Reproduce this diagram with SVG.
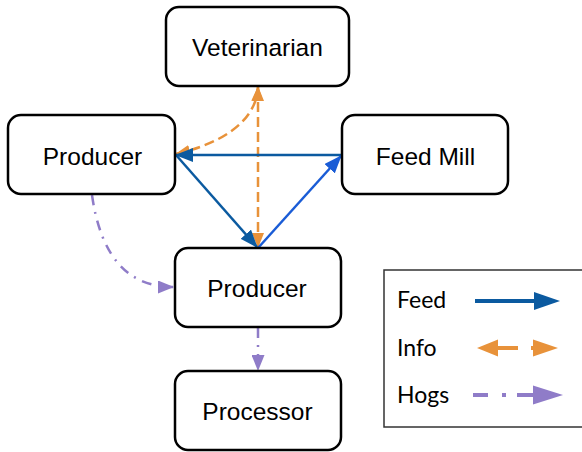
<svg xmlns="http://www.w3.org/2000/svg" width="582" height="452" viewBox="0 0 582 452">
<style>
.box{fill:#fff;stroke:#000;stroke-width:2.5}
.lbl{font-family:"Liberation Sans",Arial,sans-serif;font-size:24.5px;fill:#000;text-anchor:middle}
.leg{font-family:Lato,"Open Sans",sans-serif;font-size:23px;fill:#000}
.feed{stroke:#0b5aa0;stroke-width:2.5;fill:none}
.feed2{stroke:#1a5cd6;stroke-width:2.5;fill:none}
.info{stroke:#e8923a;stroke-width:2.5;fill:none;stroke-dasharray:10 5}
.hogs{stroke:#8f7cc8;stroke-width:2.5;fill:none;stroke-dasharray:10 7 2 7}
</style>
<defs>
<marker id="aFeed" markerUnits="userSpaceOnUse" markerWidth="18" markerHeight="14" refX="17" refY="7" orient="auto"><path d="M0,0 L18,7 L0,14 z" fill="#0b5aa0"/></marker>
<marker id="aFeed2" markerUnits="userSpaceOnUse" markerWidth="18" markerHeight="14" refX="17" refY="7" orient="auto"><path d="M0,0 L18,7 L0,14 z" fill="#1a5cd6"/></marker>
<marker id="aInfo" markerUnits="userSpaceOnUse" markerWidth="15" markerHeight="12" refX="14" refY="6" orient="auto-start-reverse"><path d="M0,0 L15,6 L0,12 z" fill="#e8923a"/></marker>
<marker id="aHogs" markerUnits="userSpaceOnUse" markerWidth="16" markerHeight="13" refX="15" refY="6.5" orient="auto"><path d="M0,0 L16,6.5 L0,13 z" fill="#8f7cc8"/></marker>
</defs>

<g id="connectors">
<path class="hogs" d="M92,195 Q105,287 173,287" marker-end="url(#aHogs)"/>
<path class="hogs" d="M258,328 L258,370" marker-end="url(#aHogs)"/>
<path class="info" d="M176,154 C215,145 256,125 258,87" marker-start="url(#aInfo)" marker-end="url(#aInfo)"/>
<path class="info" d="M258,247 L258,87" marker-start="url(#aInfo)" marker-end="url(#aInfo)"/>
<path class="feed" d="M342,155 L176,155" marker-end="url(#aFeed)"/>
<path class="feed" d="M176,155 L257,247" marker-end="url(#aFeed)"/>
<path class="feed2" d="M258,248 L341,156" marker-end="url(#aFeed2)"/>
</g>

<g id="veterinarian">
<rect class="box" x="166" y="7" width="183" height="79" rx="13"/>
<text class="lbl" x="257.5" y="56">Veterinarian</text>
</g>
<g id="producer1">
<rect class="box" x="8" y="115" width="167" height="79" rx="13"/>
<text class="lbl" x="92.5" y="165">Producer</text>
</g>
<g id="feedmill">
<rect class="box" x="342" y="115" width="166" height="79" rx="13"/>
<text class="lbl" x="425.5" y="165">Feed Mill</text>
</g>
<g id="producer2">
<rect class="box" x="175" y="248" width="166" height="79" rx="13"/>
<text class="lbl" x="257" y="297">Producer</text>
</g>
<g id="processor">
<rect class="box" x="175" y="371" width="166" height="79" rx="13"/>
<text class="lbl" x="257.5" y="420">Processor</text>
</g>

<g id="legend">
<rect x="384" y="270" width="220" height="157" fill="#fff" stroke="#333" stroke-width="1.5"/>
<text class="leg" x="397" y="308">Feed</text>
<text class="leg" x="397" y="356">Info</text>
<text class="leg" x="397" y="403">Hogs</text>
<line x1="475" y1="301" x2="536" y2="301" stroke="#0b5aa0" stroke-width="4"/>
<polygon points="534,292 560,301 534,310" fill="#0b5aa0"/>
<polygon points="477,348 498,339.5 498,356.5" fill="#e8923a"/>
<line x1="497" y1="348" x2="518" y2="348" stroke="#e8923a" stroke-width="4"/>
<line x1="531" y1="348" x2="534" y2="348" stroke="#e8923a" stroke-width="4"/>
<polygon points="533,339.5 558,348 533,356.5" fill="#e8923a"/>
<line x1="473" y1="395" x2="488" y2="395" stroke="#8f7cc8" stroke-width="4"/>
<line x1="502" y1="395" x2="506" y2="395" stroke="#8f7cc8" stroke-width="4"/>
<line x1="517" y1="395" x2="534" y2="395" stroke="#8f7cc8" stroke-width="4"/>
<polygon points="533,385.5 563,395 533,404.5" fill="#8f7cc8"/>
</g>
</svg>
